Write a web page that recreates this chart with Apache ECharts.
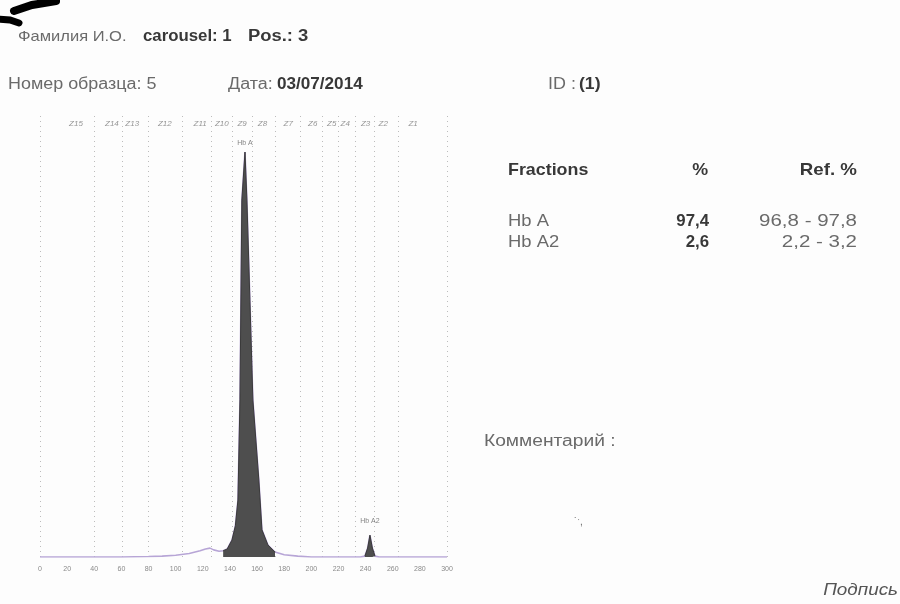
<!DOCTYPE html>
<html>
<head>
<meta charset="utf-8">
<script src="https://cdn.jsdelivr.net/npm/echarts@6/dist/echarts.min.js"></script>
<style>
html,body{margin:0;padding:0;background:#fdfdfd;}
#chart{width:900px;height:604px;}
</style>
</head>
<body>
<div id="chart"></div>
<script>
// ---- data ----
const traceX = [0,20,40,60,80,90,100,110,118,122,125.3,128,132,135,138,141.5,144,145.9,147.4,148.8,151.1,152.5,154.7,156.9,161.3,163.6,168,173.2,180,190,200,220,236,239.5,241.5,243.2,245,246.9,250,270,300];
const traceY = [0,0,0,0,0.1,0.2,0.4,0.8,1.4,1.8,2.0,1.6,1.3,1.4,1.8,3.8,7,12.8,35.3,80.2,91,80.2,57.8,35.3,17.3,6.1,2.7,1.1,0.5,0.2,0,0,0,0.2,2,4.9,2,0.2,0,0,0];
const peakNames = ['Hb A','Hb A2'];
const peakWindows = [[134,175],[238,248]];
const zoneNames = ['Z15','Z14','Z13','Z12','Z11','Z10','Z9','Z8','Z7','Z6','Z5','Z4','Z3','Z2','Z1'];
const zoneCenters = [26.5,53,68,92,118,134,149,164,183,201,215,225,240,253,275];
const zoneBounds = [0,40,60.5,80,105,126,141.5,156.5,173.5,192,208,220,232.5,246.5,264,300];
const fractions = ['Hb A','Hb A2'];
const percents = ['97,4','2,6'];
const refRanges = ['96,8 - 97,8','2,2 - 3,2'];

// ---- build ----
const FONT = 'Liberation Sans, Arial, sans-serif';
const trace = traceX.map((x,i)=>[x,traceY[i]]);
const peakSeries = peakWindows.map(w => trace.filter(p => p[0] >= w[0] && p[0] <= w[1]));
const peakTops = peakSeries.map(s => s.reduce((a,b)=> b[1] > a[1] ? b : a));
const ZONE_LABEL_Y = 97.3;

const chart = echarts.init(document.getElementById('chart'), null, {renderer:'canvas'});

const gray = '#6a6a6a';
const dark = '#383838';
function T(x, y, text, o) {
  o = o || {};
  return {
    type:'text', x:x, y:y, scaleX:o.sx || 1, scaleY:1,
    style:{text:text,
      font:(o.italic?'italic ':'')+(o.bold?'bold ':'')+(o.size||16)+'px '+FONT,
      fill:o.color || (o.bold?dark:gray), textAlign:o.align||'left', textVerticalAlign:'middle'}
  };
}

const graphics = [
  {type:'polyline', shape:{points:[[56,1],[32,5],[14,11]]}, style:{stroke:'#000', lineWidth:8, fill:null, lineCap:'round'}},
  {type:'polyline', shape:{points:[[-2,19],[10,20],[19,23]]}, style:{stroke:'#000', lineWidth:7, fill:null, lineCap:'round'}},
  T(18,37,'Фамилия И.О.',{size:15,sx:1.1}),
  T(143,37,'carousel: 1',{size:16,bold:true,sx:1.05}),
  T(248,37,'Pos.: 3',{size:16,bold:true,sx:1.15}),
  T(8,85,'Номер образца: 5',{size:16,sx:1.12}),
  T(228,85,'Дата:',{size:16,sx:1.12}),
  T(277,85,'03/07/2014',{size:16,bold:true,sx:1.07}),
  T(548,85,'ID :',{size:16,sx:1.12}),
  T(579,85,'(1)',{size:16,bold:true,sx:1.1}),
  T(508,170,'Fractions',{size:17,bold:true,sx:1.05}),
  T(708,170,'%',{size:17,bold:true,align:'right',sx:1.05}),
  T(857,170,'Ref. %',{size:17,bold:true,align:'right',sx:1.1})
];
fractions.forEach((f,i)=>{
  const y = 222 + i*21;
  graphics.push(T(508,y,f,{size:16,sx:1.15}));
  graphics.push(T(709,y,percents[i],{size:16,bold:true,align:'right',sx:1.05}));
  graphics.push(T(857,y,refRanges[i],{size:16,align:'right',sx:1.28}));
});
graphics.push(T(484,442,'Комментарий :',{size:16,sx:1.2}));
graphics.push(T(574,522,'˙ˑ,',{size:10}));
graphics.push(T(898,591,'Подпись',{size:16,italic:true,align:'right',sx:1.18,color:'#555'}));

chart.setOption({
  backgroundColor:'#fdfdfd',
  animation:false,
  grid:{left:40, right:453, top:112, bottom:47},
  xAxis:{type:'value', min:0, max:300, interval:20,
    axisLine:{show:false}, axisTick:{show:false}, splitLine:{show:false},
    axisLabel:{fontSize:7, color:'#8a8a8a', margin:9, fontFamily:FONT}},
  yAxis:{type:'value', min:0, max:100, show:false},
  series:[
    {type:'line', data:[], symbol:'none', z:1,
     markLine:{silent:true, symbol:'none', label:{show:false}, z:1,
       lineStyle:{type:[1,4], color:'#bcbcbc', width:1},
       data:zoneBounds.map(b=>({xAxis:b}))}},
    {type:'line', data:trace, symbol:'none', z:2,
     lineStyle:{color:'#b7a5d6', width:1.6}},
    ...peakSeries.map(d=>({type:'line', data:d, symbol:'none', z:3,
       lineStyle:{color:'#3a3a3a', width:1},
       areaStyle:{color:'#4e4e4e', opacity:1}})),
    {type:'scatter', symbolSize:0, z:4,
     data:zoneCenters.map((c,i)=>({value:[c,ZONE_LABEL_Y], name:zoneNames[i]})),
     label:{show:true, position:'inside', formatter:p=>p.name, fontSize:8, fontStyle:'italic', color:'#7a7a7a', fontFamily:FONT}},
    {type:'scatter', symbolSize:0, z:4,
     data:peakTops.map((p,i)=>({value:p, name:peakNames[i], label:{distance: i===0?5:11}})),
     label:{show:true, position:'top', formatter:p=>p.name, fontSize:7, color:'#666', fontFamily:FONT}}
  ],
  graphic:graphics
});
</script>
</body>
</html>
